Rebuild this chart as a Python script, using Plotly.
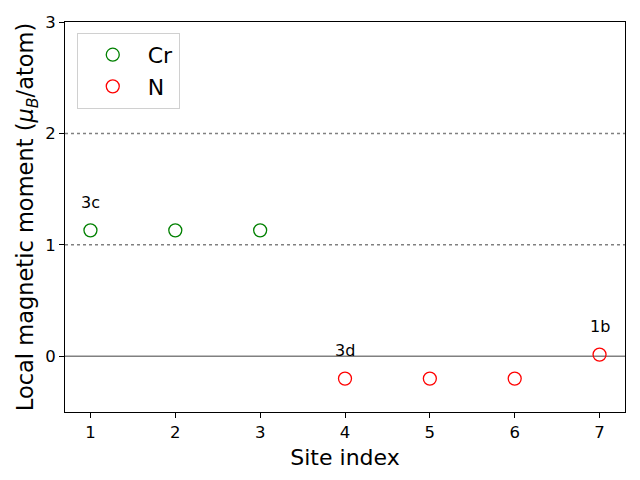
import plotly.graph_objects as go

cr_sites = [1, 2, 3]
cr_moments = [1.13, 1.13, 1.13]
n_sites = [4, 5, 6, 7]
n_moments = [-0.2, -0.2, -0.2, 0.015]
labels = ["3c", "3d", "1b"]
label_x = [1, 4, 7]
label_y = [1.38, 0.05, 0.27]
ref_lines = [1, 2]

FONT = "DejaVu Sans"
fig = go.Figure()
fig.add_trace(go.Scatter(x=cr_sites, y=cr_moments, mode="markers", name="Cr",
                         marker=dict(symbol="circle-open", size=13, color="green", line=dict(width=1.3))))
fig.add_trace(go.Scatter(x=n_sites, y=n_moments, mode="markers", name="N",
                         marker=dict(symbol="circle-open", size=13, color="red", line=dict(width=1.3))))

for yv in ref_lines:
    fig.add_hline(y=yv, line=dict(color="gray", width=1.5, dash="dot"), layer="below")
fig.add_hline(y=0, line=dict(color="gray", width=1.5), layer="below")

for t, xv, yv in zip(labels, label_x, label_y):
    fig.add_annotation(x=xv, y=yv, text=t, showarrow=False, font=dict(family=FONT, size=16, color="black"))

fig.update_layout(
    width=640, height=480,
    margin=dict(l=65, r=15, t=22, b=68),
    plot_bgcolor="white", paper_bgcolor="white",
    font=dict(family=FONT, color="black"),
    showlegend=True,
    legend=dict(x=0.021, y=0.972, xanchor="left", yanchor="top",
                bordercolor="#d0d0d0", borderwidth=1, bgcolor="white",
                font=dict(family=FONT, size=22), itemwidth=60, tracegroupgap=0),
)
fig.update_xaxes(range=[0.7, 7.3], tickvals=[1, 2, 3, 4, 5, 6, 7], showgrid=False, zeroline=False,
                 showline=True, linecolor="black", linewidth=1, mirror=True,
                 ticks="outside", ticklen=5, tickcolor="black", tickfont=dict(size=16.5),
                 title=dict(text="Site index", font=dict(size=22), standoff=8))
fig.update_yaxes(range=[-0.5, 3], tickvals=[0, 1, 2, 3], showgrid=False, zeroline=False,
                 showline=True, linecolor="black", linewidth=1, mirror=True,
                 ticks="outside", ticklen=5, tickcolor="black", tickfont=dict(size=16.5),
                 title=dict(text="Local magnetic moment (<i>μ<sub>B</sub></i>/atom)", font=dict(size=22.5), standoff=5))

fig.write_html("out.html")
